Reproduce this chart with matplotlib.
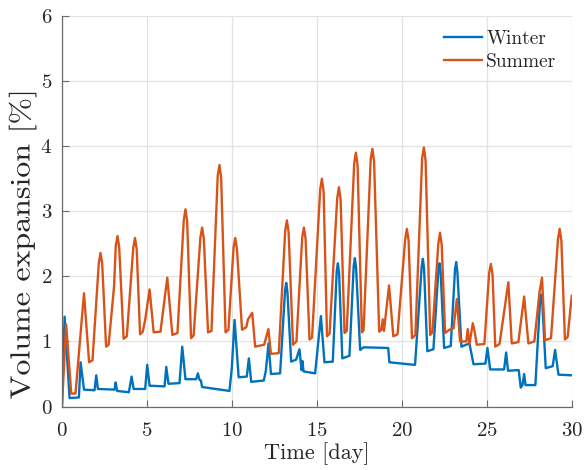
import matplotlib
matplotlib.use("Agg")
import matplotlib.pyplot as plt
from matplotlib.patheffects import AbstractPathEffect
from matplotlib.transforms import Affine2D

# Winter series: time [day] and volume expansion [%]
winter_day = [0, 0.16, 0.45, 1.0, 1.1, 1.3, 1.92, 2.02, 2.12, 3.1, 3.16, 3.25, 3.94,
              4.1, 4.22, 4.9, 5.02, 5.16, 6.04, 6.14, 6.27, 6.92, 7.08, 7.27, 7.9,
              8.0, 8.1, 8.18, 8.25, 9.86, 10.0, 10.16, 10.4, 10.88, 11.0, 11.14,
              11.88, 12.0, 12.16, 12.3, 12.84,
              13.13, 13.2, 13.27, 13.49, 13.78, 13.98, 14.1,
              14.15, 14.22, 14.9, 15.24, 15.45, 15.94,
              16.17, 16.24, 16.31, 16.5, 16.92,
              17.17, 17.24, 17.31, 17.55, 17.75, 19.2, 19.27, 20.78,
              21.17, 21.24, 21.31, 21.5, 21.86,
              22.15, 22.22, 22.29, 22.49, 22.88,
              23.13, 23.2, 23.27, 23.51, 23.98, 24.22, 24.92, 25.04, 25.2, 26.02, 26.14,
              26.25, 26.88, 27.0, 27.1, 27.2, 27.28, 27.86,
              28.13, 28.2, 28.27, 28.47, 28.88,
              29.02, 29.22, 30.0]
winter_val = [0, 1.38, 0.13, 0.14, 0.68, 0.26, 0.25, 0.48, 0.27, 0.26, 0.37, 0.24, 0.22,
              0.46, 0.27, 0.27, 0.64, 0.32, 0.31, 0.61, 0.35, 0.36, 0.92, 0.42, 0.42,
              0.51, 0.41, 0.40, 0.30, 0.24, 0.60, 1.33, 0.45, 0.46, 0.74, 0.38,
              0.40, 0.55, 0.97, 0.50, 0.51,
              1.78, 1.90, 1.76, 0.69, 0.72, 0.88, 0.56,
              0.70, 0.54, 0.51, 1.39, 0.68, 0.69,
              2.08, 2.20, 2.05, 0.74, 0.78,
              2.16, 2.28, 2.13, 0.87, 0.91, 0.90, 0.68, 0.64,
              2.15, 2.27, 2.12, 0.85, 0.88,
              2.08, 2.20, 2.05, 0.90, 0.93,
              2.10, 2.22, 2.07, 0.92, 0.97, 0.65, 0.66, 0.90, 0.57, 0.57, 0.83,
              0.55, 0.56, 0.29, 0.33, 0.50, 0.33, 0.33,
              1.60, 1.72, 1.58, 0.59, 0.62,
              0.87, 0.49, 0.48]

# Summer series: time [day] and volume expansion [%]
summer_day = [0, 0.25, 0.55, 0.8, 1.3, 1.6, 1.8,
              2.17, 2.27, 2.37, 2.6, 2.75, 3.07,
              3.17, 3.27, 3.37, 3.63, 3.82,
              4.2, 4.3, 4.4, 4.6, 4.76, 4.9, 5.16, 5.4, 5.8, 6.2, 6.5, 6.8,
              7.17, 7.27, 7.37, 7.6, 7.75,
              8.15, 8.25, 8.35, 8.6, 8.8,
              9.17, 9.27, 9.37, 9.63, 9.8,
              10.1, 10.2, 10.3, 10.6, 10.85, 10.95, 11.2,
              11.37, 11.9, 12.15, 12.3, 12.76,
              13.14, 13.24, 13.34, 13.6, 13.8,
              14.14, 14.24, 14.34, 14.57, 14.72,
              15.2, 15.3, 15.4, 15.6, 15.75,
              16.2, 16.3, 16.4, 16.63, 16.76,
              17.2, 17.3, 17.4, 17.65, 17.75,
              18.17, 18.27, 18.37, 18.67, 18.8, 18.88, 18.95, 19.25, 19.5, 19.75,
              20.2, 20.3, 20.4, 20.6, 20.8,
              21.2, 21.3, 21.4, 21.67, 21.8,
              22.15, 22.25, 22.35, 22.55, 22.7, 22.8, 23.04, 23.24,
              23.43, 23.8, 23.88, 23.98, 24.18, 24.3, 24.41, 24.86,
              25.14, 25.24, 25.34, 25.5, 25.75, 26.27, 26.47, 26.86, 27.2, 27.45,
              27.8, 28.1, 28.25, 28.43, 28.78,
              29.19, 29.29, 29.39, 29.6, 29.76, 30.0]
summer_val = [0, 1.26, 0.20, 0.20, 1.74, 0.68, 0.71,
              2.20, 2.36, 2.20, 0.92, 0.95, 1.85,
              2.47, 2.62, 2.45, 1.04, 1.08,
              2.44, 2.59, 2.42, 1.11, 1.15, 1.33, 1.80, 1.14, 1.15, 1.98, 1.10, 1.13,
              2.86, 3.03, 2.85, 1.05, 1.09,
              2.60, 2.75, 2.58, 1.14, 1.16,
              3.55, 3.71, 3.52, 1.14, 1.18,
              2.44, 2.59, 2.42, 1.18, 1.22, 1.34, 1.44,
              0.92, 0.95, 1.19, 0.81, 0.82,
              2.70, 2.86, 2.68, 0.95, 1.00,
              2.60, 2.75, 2.57, 1.03, 1.06,
              3.34, 3.50, 3.30, 1.08, 1.12,
              3.20, 3.37, 3.18, 1.13, 1.16,
              3.74, 3.90, 3.70, 1.14, 1.17,
              3.80, 3.96, 3.76, 1.15, 1.18, 1.34, 1.16, 1.86, 1.08, 1.11,
              2.57, 2.73, 2.55, 1.05, 1.10,
              3.82, 3.98, 3.78, 1.10, 1.14,
              2.50, 2.67, 2.48, 1.13, 1.16, 1.18, 1.20, 1.65,
              1.00, 1.00, 1.19, 0.96, 1.28, 1.13, 0.95, 0.96,
              2.05, 2.19, 2.03, 0.92, 0.96, 1.91, 0.97, 0.99, 1.69, 0.97,
              1.00, 1.75, 1.98, 1.02, 1.05,
              2.57, 2.73, 2.55, 1.03, 1.07, 1.70]

x_ticks = [0, 5, 10, 15, 20, 25, 30]
y_ticks = [0, 1, 2, 3, 4, 5, 6]


class StretchAlongBaseline(AbstractPathEffect):
    """Widen rendered glyphs along the text baseline."""

    def __init__(self, factor):
        super().__init__()
        self.factor = factor

    def draw_path(self, renderer, gc, tpath, affine, rgbFace=None):
        renderer.draw_path(gc, tpath, Affine2D().scale(self.factor, 1.0) + affine,
                           rgbFace)


plt.rcParams['font.family'] = 'cmr10'
plt.rcParams['mathtext.fontset'] = 'cm'
plt.rcParams['axes.unicode_minus'] = False
plt.rcParams['axes.formatter.use_mathtext'] = True

fig = plt.figure(figsize=(5.84, 4.70), dpi=100)
ax = fig.add_axes([0.106, 0.135, 0.873, 0.831])

ax.plot(winter_day, winter_val, color='#0072BD', lw=1.7, label='Winter',
        solid_joinstyle='round')
ax.plot(summer_day, summer_val, color='#D95319', lw=1.7, label='Summer',
        solid_joinstyle='round')

ax.set_xlim(0, 30)
ax.set_ylim(0, 6)
ax.set_xticks(x_ticks)
ax.set_yticks(y_ticks)
ax.grid(True, color='#e3e3e3', lw=0.9)
ax.set_axisbelow(True)

for side in ('top', 'right'):
    ax.spines[side].set_visible(False)
for side in ('left', 'bottom'):
    ax.spines[side].set_color('#6b6b6b')
    ax.spines[side].set_linewidth(0.9)

ax.tick_params(direction='in', length=5, width=0.8, color='#6b6b6b',
               labelsize=15, labelcolor='#262626')
ax.tick_params(axis='x', pad=11)
ax.tick_params(axis='y', pad=7)

ax.set_xlabel('Time [day]', fontsize=16, color='#262626', labelpad=2)
ylab = ax.set_ylabel('Volume expansion [%]', fontsize=20, color='#262626',
                     ha='left')
ylab.set_path_effects([StretchAlongBaseline(1.15)])
ax.yaxis.set_label_coords(-0.050, 0.018)

leg = ax.legend(loc='upper right', bbox_to_anchor=(0.985, 0.985),
                borderaxespad=0, frameon=False, fontsize=14,
                handlelength=1.95, handletextpad=0.2, labelspacing=0.3)
for t in leg.get_texts():
    t.set_color('#262626')

fig.savefig('out.png', dpi=100)
